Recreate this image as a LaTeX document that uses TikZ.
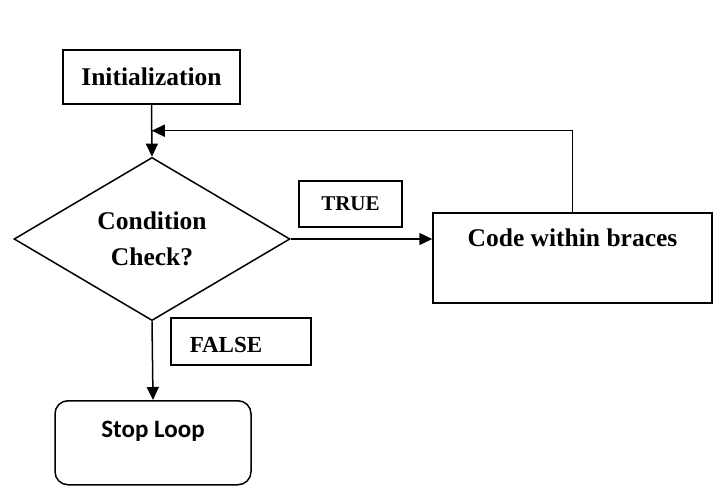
\documentclass[tikz,border=0pt]{standalone}
\usepackage{fontspec}
\setmainfont{Liberation Serif}
\newfontfamily\calib{Carlito}
\usetikzlibrary{shapes.geometric,arrows.meta,calc}
\begin{document}
\begin{tikzpicture}[x=1pt,y=-1pt,
  box/.style={draw,line width=1.5pt,inner sep=0pt,font=\fontsize{25.5}{30}\selectfont\bfseries},
  tag/.style={draw,line width=1.5pt,inner sep=0pt},
  arr/.style={line width=1.5pt,-{Triangle[length=13pt,width=12pt]}}]
\useasboundingbox[fill=white] (0,0) rectangle (721,503);
\node[box,minimum width=177pt,minimum height=54pt] (init) at (151.5,77) {Initialization};
\node[box,shape=diamond,minimum width=276pt,minimum height=160pt,align=center,
  font=\fontsize{25.5}{36}\selectfont\bfseries] (cond) at (152,239) {Condition\\Check?};
\node[tag,minimum width=103pt,minimum height=46pt,font=\fontsize{21}{25}\selectfont\bfseries] (true) at (350.5,204) {TRUE};
\node[box,anchor=north,minimum width=279pt,text height=34pt,text depth=56pt] (code) at (572.5,212) {Code within braces};
\node[tag,anchor=north west,inner xsep=19pt,text width=102pt,align=left,text height=35pt,text depth=12pt,
  font=\fontsize{23}{28}\selectfont\bfseries] (false) at (170,317) {FALSE};
\node[draw,line width=1.5pt,rounded corners=13pt,inner sep=0pt,anchor=north,minimum width=196pt,
  text height=37pt,text depth=47pt,font=\calib\fontsize{25}{30}\selectfont\bfseries] (stop) at (153,400) {Stop Loop};
\draw[arr] (init.south) -- (cond.north);
\coordinate (j) at ($(init.south)!0.5!(cond.north)$);
\draw[arr] (cond.east) -- (cond.east -| code.west);
\draw[arr] (code.north) |- (j);
\draw[arr] (cond.south) -- (stop.north);
\end{tikzpicture}
\end{document}
